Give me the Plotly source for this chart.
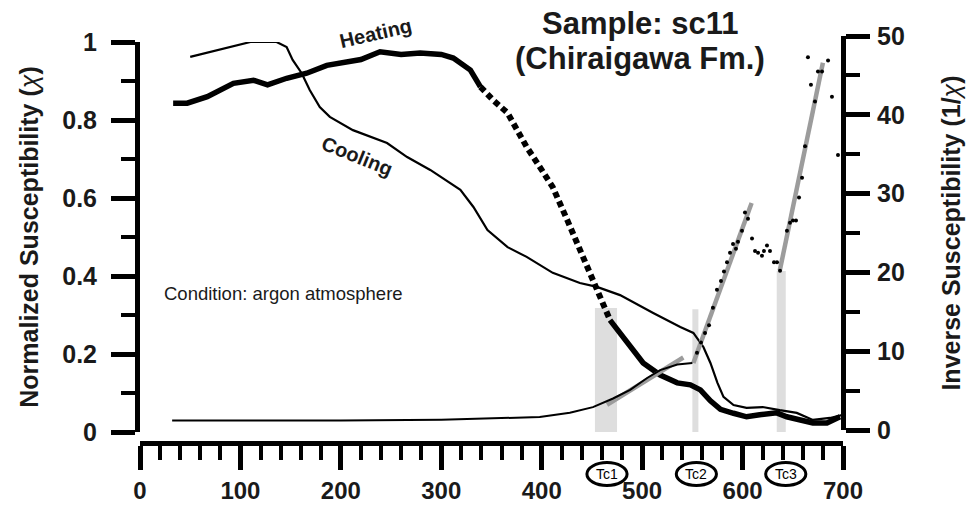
import plotly.graph_objects as go

# ---------------- data ----------------
heat_T = [33, 47, 67, 93, 113, 127, 146, 166, 186, 199, 220, 239, 260, 279, 300, 312, 329, 339,
          352, 366, 385, 398, 411, 426, 441, 451, 468, 485, 501, 518, 535, 548, 558, 568, 578,
          591, 604, 617, 634, 644, 657, 670, 684, 697]
heat_chi = [0.843, 0.843, 0.86, 0.894, 0.902, 0.89, 0.907, 0.92, 0.94, 0.946, 0.955, 0.975, 0.968,
            0.972, 0.968, 0.959, 0.928, 0.885, 0.85, 0.818, 0.731, 0.68, 0.628, 0.54, 0.449, 0.382,
            0.287, 0.228, 0.177, 0.146, 0.126, 0.121, 0.108, 0.08, 0.058, 0.048, 0.039, 0.044,
            0.049, 0.039, 0.031, 0.023, 0.023, 0.039]

cool_T = [50, 76, 110, 136, 146, 152, 161, 169, 179, 189, 212, 246, 266, 289, 319, 332, 346, 366,
          385, 411, 438, 455, 478, 511, 538, 551, 561, 568, 575, 581, 591, 604, 620, 637, 654,
          670, 687, 700]
cool_chi = [0.962, 0.979, 1.0, 1.0, 0.987, 0.954, 0.92, 0.877, 0.833, 0.808, 0.774, 0.741, 0.705,
            0.672, 0.621, 0.577, 0.518, 0.474, 0.449, 0.408, 0.382, 0.372, 0.351, 0.305, 0.269,
            0.254, 0.218, 0.177, 0.126, 0.09, 0.069, 0.062, 0.064, 0.056, 0.049, 0.031, 0.036,
            0.044]

inv_low_T = [32, 100, 200, 300, 350, 398, 428, 451, 471, 488, 505, 518, 535, 550]
inv_low = [1.2, 1.2, 1.2, 1.3, 1.45, 1.65, 2.2, 2.9, 4.0, 5.1, 6.6, 7.6, 8.3, 8.5]

inv_high_T = [554.6, 558.6, 562.6, 566.6, 570.5, 574.5, 578.5, 581.5, 584.5, 587.5, 590.5, 593.4,
              595.4, 599.4, 602.4, 605.4, 609.4, 612.4, 615.4, 619.3, 621.3, 624.3, 627.3, 631.3,
              634.3, 637.3, 644.2, 647.2, 650.2, 653.2, 656.2, 659.2, 662.2, 665.1, 668.1, 672.1,
              675.1, 679.1, 685.1, 689.0, 695.0, 704.0, 705.0]
inv_high = [9.8, 11.1, 12.3, 13.3, 15.5, 17.8, 18.9, 20.1, 21.3, 22.5, 23.6, 23.0, 23.9, 25.3,
            27.6, 26.8, 24.3, 22.7, 22.5, 22.1, 22.7, 23.4, 22.7, 21.3, 21.3, 20.2, 25.3, 26.3,
            26.6, 26.6, 29.5, 32.0, 36.0, 47.3, 43.8, 41.7, 45.5, 45.5, 46.9, 42.3, 34.9, 28.0,
            26.3]

fit_T = [[465, 541], [551, 609], [637, 680]]
fit_inv = [[3.2, 9.2], [8.5, 28.8], [20.2, 46.6]]

tc_labels = ["Tc1", "Tc2", "Tc3"]
tc_label_T = [465, 554, 643]
band_lo = [453, 550, 634]
band_hi = [475, 556, 643]
band_top = [0.318, 0.315, 0.413]

x_ticks = [0, 100, 200, 300, 400, 500, 600, 700]
y_ticks = [0, 0.2, 0.4, 0.6, 0.8, 1]
y2_ticks = [0, 10, 20, 30, 40, 50]

# ---------------- figure ----------------
FONT = "Liberation Sans, Arial, Helvetica, sans-serif"
TXT = "#1a1a1a"
fig = go.Figure()

# steep part of the heating curve is drawn as separated dots, as in the reference
i0, i1 = heat_T.index(339), heat_T.index(468)

fig.add_trace(go.Scatter(x=cool_T, y=cool_chi, mode="lines",
                         line=dict(color="black", width=2.2), showlegend=False))
fig.add_trace(go.Scatter(x=heat_T[:i0 + 1], y=heat_chi[:i0 + 1], mode="lines",
                         line=dict(color="black", width=5.5), showlegend=False))
fig.add_trace(go.Scatter(x=heat_T[i0:i1 + 1], y=heat_chi[i0:i1 + 1], mode="lines",
                         line=dict(color="black", width=6, dash="6px,4px"), showlegend=False))
fig.add_trace(go.Scatter(x=heat_T[i1:], y=heat_chi[i1:], mode="lines",
                         line=dict(color="black", width=5.5), showlegend=False))
for fx, fy in zip(fit_T, fit_inv):
    fig.add_trace(go.Scatter(x=fx, y=fy, yaxis="y2", mode="lines",
                             line=dict(color="#9c9c9c", width=4.5), showlegend=False))
fig.add_trace(go.Scatter(x=inv_low_T, y=inv_low, yaxis="y2", mode="lines",
                         line=dict(color="black", width=2), showlegend=False))
fig.add_trace(go.Scatter(x=inv_high_T, y=inv_high, yaxis="y2", mode="markers",
                         marker=dict(color="black", size=4), cliponaxis=False,
                         showlegend=False))

# Curie temperature bands and labels
for lo, hi, top in zip(band_lo, band_hi, band_top):
    fig.add_shape(type="rect", xref="x", yref="y", x0=lo, x1=hi, y0=-0.013, y1=top,
                  fillcolor="#dedede", line=dict(width=0), layer="below")
for lab, t in zip(tc_labels, tc_label_T):
    fig.add_shape(type="circle", xref="x", yref="paper", x0=t - 20, x1=t + 20,
                  y0=-0.104, y1=-0.048, line=dict(color="black", width=3))
    fig.add_annotation(x=t, y=-0.076, xref="x", yref="paper", text=lab, showarrow=False,
                       xanchor="center", yanchor="middle",
                       font=dict(family=FONT, size=14, color="black"))

fig.add_annotation(x=0.7125, y=1.0294, xref="paper", yref="paper", text="<b>Sample: sc11</b>",
                   showarrow=False, xanchor="center", yanchor="middle",
                   font=dict(family=FONT, size=31, color=TXT))
fig.add_annotation(x=0.7125, y=0.9436, xref="paper", yref="paper",
                   text="<b>(Chiraigawa Fm.)</b>", showarrow=False, xanchor="center",
                   yanchor="middle", font=dict(family=FONT, size=31, color=TXT))
fig.add_annotation(x=0.3385, y=1.005, xref="paper", yref="paper", text="<b>Heating</b>",
                   textangle=-13, showarrow=False, xanchor="center", yanchor="middle",
                   font=dict(family=FONT, size=20, color=TXT))
fig.add_annotation(x=0.3116, y=0.7034, xref="paper", yref="paper", text="<b>Cooling</b>",
                   textangle=22, showarrow=False, xanchor="center", yanchor="middle",
                   font=dict(family=FONT, size=20, color=TXT))
fig.add_annotation(x=0.0354, y=0.3676, xref="paper", yref="paper",
                   text="Condition: argon atmosphere", xanchor="left", yanchor="middle",
                   showarrow=False, font=dict(family=FONT, size=18.5, color=TXT))

axis_common = dict(showline=True, linecolor="black", linewidth=5, ticks="outside",
                   tickcolor="black", tickwidth=5, ticklen=24, showgrid=False, zeroline=False,
                   automargin=False,
                   tickfont=dict(family=FONT, size=25, color=TXT, weight="bold"))

fig.update_layout(
    width=968, height=507,
    margin=dict(l=137, r=125, t=35, b=64, autoexpand=False),
    paper_bgcolor="white", plot_bgcolor="rgba(0,0,0,0)",
    xaxis=dict(domain=[3 / 706, 1], range=[0, 700], anchor="free", position=0,
               tickvals=x_ticks, ticklabelstandoff=0,
               minor=dict(dtick=20, ticklen=14, tickwidth=4, ticks="outside",
                          tickcolor="black"),
               **{**axis_common,
                  "tickfont": dict(family=FONT, size=24, color=TXT, weight="bold")}),
    yaxis=dict(domain=[11 / 408, 401 / 408], range=[0, 1], anchor="free", position=0,
               tickvals=y_ticks, ticktext=[str(v) for v in y_ticks], ticklabelstandoff=9,
               minor=dict(dtick=0.1, ticklen=14, tickwidth=4, ticks="outside", tickcolor="black"),
               title=dict(text="<b>Normalized Susceptibility (</b><i>χ</i><b>)</b>",
                          font=dict(family=FONT, size=25, color=TXT), standoff=15),
               **axis_common),
    yaxis2=dict(domain=[13 / 408, 407 / 408], range=[0, 50], anchor="free", position=1,
                side="right", tickvals=y2_ticks, ticklabelstandoff=2,
                minor=dict(dtick=5, ticklen=14, tickwidth=4, ticks="outside", tickcolor="black"),
                title=dict(text="<b>Inverse Susceptibility (1/</b><i>χ</i><b>)</b>",
                           font=dict(family=FONT, size=25, color=TXT), standoff=38),
                **axis_common),
)

fig.write_html("out.html", config={"displayModeBar": False},
               post_script="document.body.style.margin='0px';")
